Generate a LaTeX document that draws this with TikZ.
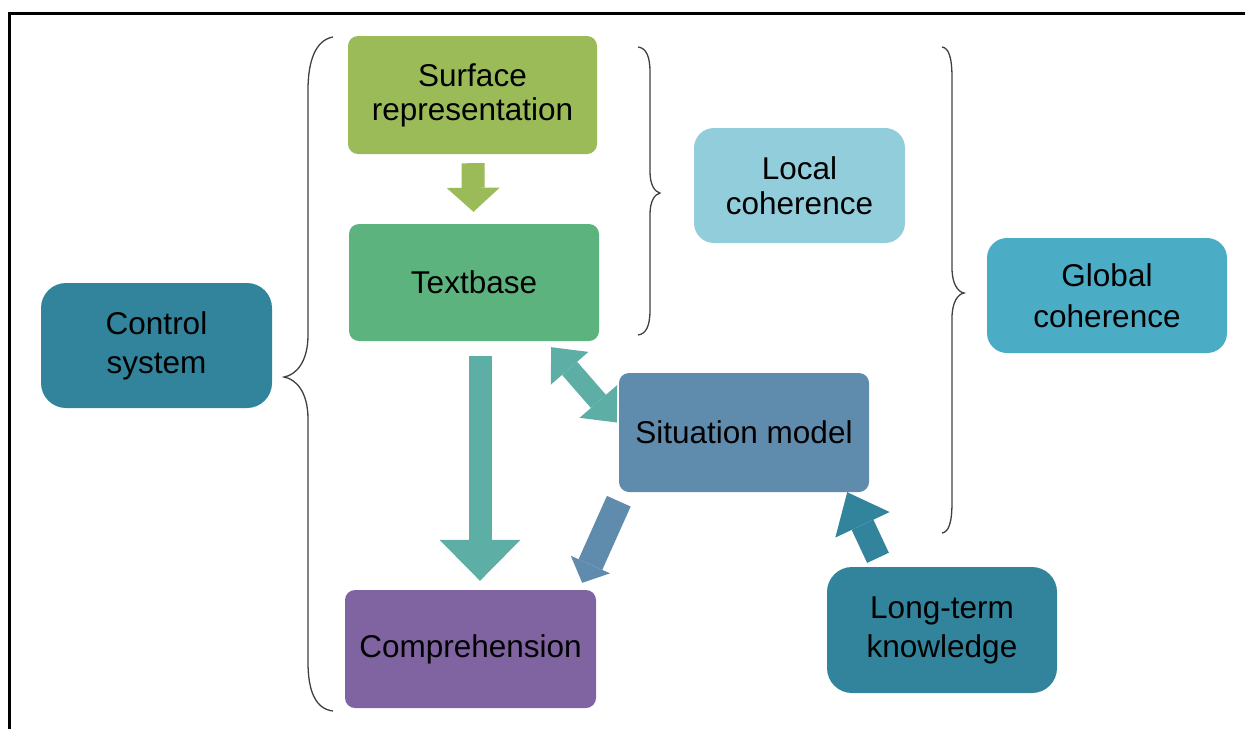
\documentclass[tikz,border=0pt]{standalone}
\usepackage{fontspec}
\setmainfont{Liberation Sans}
\usetikzlibrary{arrows.meta}

\definecolor{cSurf}{HTML}{9BBB59}
\definecolor{cText}{HTML}{5DB37E}
\definecolor{cLocal}{HTML}{92CDDC}
\definecolor{cGlobal}{HTML}{4BACC6}
\definecolor{cDark}{HTML}{31849B}
\definecolor{cSit}{HTML}{5F8BAD}
\definecolor{cComp}{HTML}{8064A2}
\definecolor{cTeal}{HTML}{5DAFA5}
\definecolor{cBrace}{HTML}{404040}

\begin{document}
\begin{tikzpicture}[x=1pt,y=-1pt,
  box/.style={rectangle, rounded corners=#1, inner sep=0pt, align=center,
    text=black, font=\fontsize{31.5}{36}\selectfont},
  box/.default=10pt,
  lead/.style={font=\fontsize{31.5}{#1}\selectfont},
  brace/.style={draw=cBrace, line width=1.3pt},
  frame/.style={draw=black, line width=2.6pt},
  arrSmall/.style={draw=cSurf, line width=23pt,
    -{Triangle[length=24pt,width=53pt,line width=0pt]}},
  arrBig/.style={draw=cTeal, line width=23pt,
    -{Triangle[length=41pt,width=81pt,line width=0pt]}},
  arrBoth/.style={draw=cTeal, line width=20pt,
    {Triangle[length=28pt,width=50pt,line width=0pt]}-{Triangle[length=28pt,width=50pt,line width=0pt]}},
  arrSit/.style={draw=cSit, line width=26pt,
    -{Triangle[length=20pt,width=43pt,line width=0pt]}},
  arrLong/.style={draw=cDark, line width=24pt,
    -{Triangle[length=36pt,width=60pt,line width=0pt]}}
]
\useasboundingbox (0,0) rectangle (1245,729);

% outer frame (top and left edges)
\draw[frame] (9.7,729) -- (9.7,13.7) -- (1245,13.7);

% boxes
\node[box, lead=34, fill=cSurf, minimum width=249pt, minimum height=118pt] (surf) at (472.5,95) {Surface\\representation};
\node[box, fill=cText, minimum width=250pt, minimum height=117pt] (tb) at (474,282.5) {Textbase};
\node[box=20pt, lead=35, fill=cLocal, minimum width=211pt, minimum height=115pt] (local) at (799.5,185.5) {Local\\coherence};
\node[box=20pt, lead=41, fill=cGlobal, minimum width=240pt, minimum height=115pt] (global) at (1107,295.5) {Global\\coherence};
\node[box=25pt, lead=39, fill=cDark, minimum width=231pt, minimum height=125pt] (ctrl) at (156.5,345.5) {Control\\system};
\node[box, fill=cSit, minimum width=250pt, minimum height=119pt] (sit) at (744,432.5) {Situation model};
\node[box, fill=cComp, minimum width=251pt, minimum height=118pt] (comp) at (470.5,649) {Comprehension};
\node[box=25pt, lead=39, fill=cDark, minimum width=230pt, minimum height=126pt] (lt) at (942,630) {Long-term\\knowledge};

% block arrows
\draw[arrSmall, shorten <=9pt, shorten >=12pt] (surf) -- (tb);
\draw[arrBig] ([shift={(6,15)}]tb.south) -- ([shift={(9.5,-9)}]comp.north);
\draw[arrBoth] ([shift={(-48,6)}]tb.south east) -- ([shift={(-2,-10)}]sit.west);
\draw[arrSit] ([shift={(0,9)}]sit.south west) -- ([shift={(-14,-7)}]comp.north east);
\draw[arrLong] ([shift={(-64,-9)}]lt.north) -- ([shift={(-22,0)}]sit.south east);

% large left brace
\draw[brace] (333,37) .. controls (316,40) and (308,60) .. (308,90)
  -- (308,335) .. controls (308,362) and (296,375) .. (284,377)
  .. controls (296,379) and (308,392) .. (308,419)
  -- (308,662) .. controls (308,692) and (316,709) .. (333,711);

% brace for local coherence
\draw[brace] (638,47) .. controls (646,48) and (650,56) .. (650,72)
  -- (650,172) .. controls (650,185) and (655,192) .. (660,193)
  .. controls (655,194) and (650,201) .. (650,214)
  -- (650,310) .. controls (650,326) and (646,334) .. (638,335);

% brace for global coherence
\draw[brace] (942,47) .. controls (949,48) and (952,58) .. (952,78)
  -- (952,268) .. controls (952,284) and (958,292) .. (964,293)
  .. controls (958,294) and (952,302) .. (952,318)
  -- (952,502) .. controls (952,522) and (949,532) .. (942,533);
\end{tikzpicture}
\end{document}
